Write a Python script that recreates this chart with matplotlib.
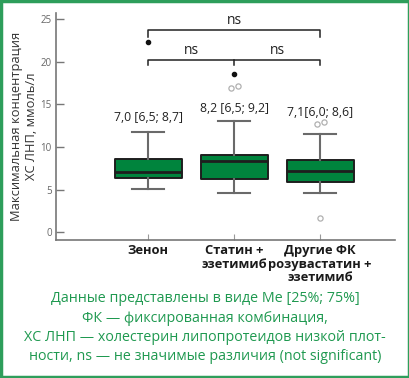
import matplotlib
matplotlib.use("Agg")
import matplotlib.pyplot as plt
from matplotlib.patches import Rectangle

plt.rcParams["font.family"] = ["Open Sans", "DejaVu Sans"]

GREEN = "#00843d"
FRAME = "#2e9e5b"
CAPTION = "#1f9950"

groups = ["Зенон", "Статин +\nэзетимиб", "Другие ФК\nрозувастатин +\nэзетимиб"]
q1 = [6.4, 6.2, 5.9]
medians = [7.05, 8.3, 7.2]
q3 = [8.6, 9.1, 8.5]
whisker_low = [5.1, 4.6, 4.6]
whisker_high = [11.8, 13.0, 11.5]
extreme_outliers = [[22.3], [18.6], []]
mild_outliers = [[], [16.9, 17.2], [12.7, 12.9, 1.6]]
summary_labels = ["7,0 [6,5; 8,7]", "8,2 [6,5; 9,2]", "7,1[6,0; 8,6]"]
summary_y = [13.5, 14.5, 14.1]

caption = ("Данные представлены в виде Me [25%; 75%]\n"
           "ФК — фиксированная комбинация,\n"
           "ХС ЛНП — холестерин липопротеидов низкой плот-\n"
           "ности, ns — не значимые различия (not significant)")

fig = plt.figure(figsize=(4.1, 3.78), dpi=100)
ax = fig.add_axes([0.1366, 0.365, 0.8268, 0.6006])

positions = [1, 2, 3]
stats = [
    dict(med=m, q1=a, q3=b, whislo=lo, whishi=hi, fliers=[])
    for m, a, b, lo, hi in zip(medians, q1, q3, whisker_low, whisker_high)
]
bp = ax.bxp(stats, positions=positions, widths=0.78, patch_artist=True,
            showfliers=False,
            boxprops=dict(facecolor=GREEN, edgecolor="#1e1e1e", linewidth=1.4,
                          joinstyle="round"),
            medianprops=dict(color="#1e1e1e", linewidth=2.0),
            whiskerprops=dict(color="#6a6a6a", linewidth=1.5),
            capprops=dict(color="#6a6a6a", linewidth=1.5),
            capwidths=0.38)

for pos, vals in zip(positions, extreme_outliers):
    if vals:
        ax.scatter([pos] * len(vals), vals, s=9, color="#111111", zorder=4)
for pos, vals in zip(positions, mild_outliers):
    # paired points sit side by side
    xs = []
    for v in vals:
        close = [w for w in vals if abs(w - v) < 1.0]
        if len(close) > 1:
            xs.append(pos + (-0.04 if close.index(v) == 0 else 0.04))
        else:
            xs.append(pos)
    ax.scatter(xs, vals, s=14, facecolor="white", edgecolor="#b0b0b0",
               linewidth=0.9, zorder=4)

for pos, lab, y in zip(positions, summary_labels, summary_y):
    ax.text(pos, y, lab, ha="center", va="center", fontsize=8.8, color="#222222")

# significance brackets
bk = dict(color="#222222", linewidth=1.1)
ax.plot([1, 1, 3, 3], [19.6, 20.2, 20.2, 19.6], **bk)
ax.plot([2, 2], [20.2, 19.6], **bk)
ax.plot([1, 1, 3, 3], [22.9, 23.8, 23.8, 22.9], **bk)
ax.text(1.5, 20.5, "ns", ha="center", va="bottom", fontsize=10, color="#222222")
ax.text(2.5, 20.5, "ns", ha="center", va="bottom", fontsize=10, color="#222222")
ax.text(2.0, 24.0, "ns", ha="center", va="bottom", fontsize=10, color="#222222")

ax.set_xlim(-0.07, 3.87)
ax.set_ylim(-0.94, 25.76)
ax.set_yticks([0, 5, 10, 15, 20, 25])
ax.set_xticks(positions)
ax.set_xticklabels(groups, fontsize=9.3, fontweight="bold", color="#1a1a1a",
                   linespacing=1.05)
ax.tick_params(axis="y", direction="in", length=6, width=1, color="#777777",
               labelsize=7, labelcolor="#666666", pad=3)
ax.tick_params(axis="x", direction="in", length=4, width=0.8, color="#999999",
               pad=3)
for side in ["top", "right"]:
    ax.spines[side].set_visible(False)
for side in ["left", "bottom"]:
    ax.spines[side].set_color("#777777")
    ax.spines[side].set_linewidth(1.2)

ax.set_ylabel("Максимальная концентрация\nХС ЛНП, ммоль/л", fontsize=9.3,
              color="#333333", linespacing=1.2)
ax.yaxis.set_label_coords(-0.052, 0.5)

fig.text(0.5, 0.133, caption, ha="center", va="center", fontsize=10.3,
         color=CAPTION, linespacing=1.38)

fig.patches.append(Rectangle((0.003, 0.003), 0.994, 0.994, transform=fig.transFigure,
                             fill=False, edgecolor=FRAME, linewidth=2.5))

fig.savefig("out.png", dpi=100)
